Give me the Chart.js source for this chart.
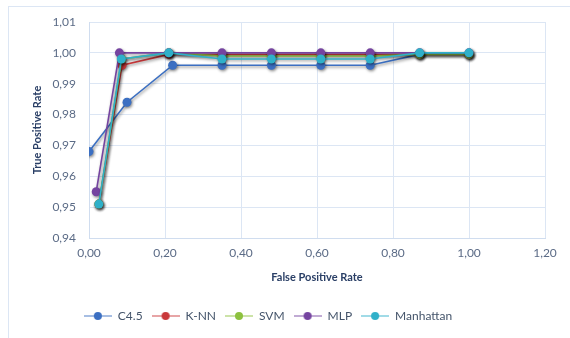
<!DOCTYPE html>
<html>
<head>
<meta charset="utf-8">
<script src="https://cdn.jsdelivr.net/npm/chart.js@4/dist/chart.umd.min.js"></script>
<style>
  html, body { margin: 0; padding: 0; background: #fff; overflow: hidden; }
  #frame { position: absolute; left: 8px; top: 6px; width: 700px; height: 500px; border: 1px solid #dce6f4; }
  #wrap { position: absolute; left: 0; top: 0; width: 570px; height: 338px; }
</style>
</head>
<body>
<div id="frame"></div>
<div id="wrap"><canvas id="roc"></canvas></div>
<script>
// Dados
const nomes = ['C4.5', 'K-NN', 'SVM', 'MLP', 'Manhattan'];
const cores = ['#3b6fc2', '#c9383a', '#8dc13f', '#7544a0', '#2fb0c9'];

const xC45 = [0.00, 0.10, 0.22, 0.35, 0.48, 0.61, 0.74, 0.87, 1.00];
const yC45 = [0.968, 0.984, 0.996, 0.996, 0.996, 0.996, 0.996, 0.9995, 0.9995];
const xKNN = [0.026, 0.087, 0.21, 0.35, 0.48, 0.61, 0.74, 0.87, 1.00];
const yKNN = [0.951, 0.996, 0.9995, 0.9995, 0.9995, 0.9995, 0.9995, 0.9995, 0.9995];
const xSVM = [0.026, 0.086, 0.21, 0.35, 0.48, 0.61, 0.74, 0.87, 1.00];
const ySVM = [0.951, 0.998, 1.000, 0.999, 0.999, 0.999, 0.999, 0.9995, 0.9995];
const xMLP = [0.019, 0.080, 0.21, 0.35, 0.48, 0.61, 0.74, 0.87, 1.00];
const yMLP = [0.955, 1.000, 1.000, 1.000, 1.000, 1.000, 1.000, 1.000, 1.000];
const xMan = [0.026, 0.085, 0.21, 0.35, 0.48, 0.61, 0.74, 0.87, 1.00];
const yMan = [0.951, 0.998, 1.000, 0.998, 0.998, 0.998, 0.998, 1.000, 1.000];

const xTicks = [0, 0.2, 0.4, 0.6, 0.8, 1.0, 1.2];
const yTicks = [0.94, 0.95, 0.96, 0.97, 0.98, 0.99, 1.00, 1.01];

const series = [[xC45, yC45], [xKNN, yKNN], [xSVM, ySVM], [xMLP, yMLP], [xMan, yMan]];
const ordem = [4, 3, 2, 1, 0]; // Manhattan fica por cima

function virgula(v) { return v.toFixed(2).replace('.', ','); }

// ícone da legenda: linha com ponto no meio
function iconeLegenda(cor) {
  const c = document.createElement('canvas');
  c.width = 28; c.height = 10;
  const g = c.getContext('2d');
  g.globalAlpha = 0.45;
  g.strokeStyle = cor; g.lineWidth = 2;
  g.beginPath(); g.moveTo(0, 5); g.lineTo(28, 5); g.stroke();
  g.globalAlpha = 1;
  g.fillStyle = cor;
  g.beginPath(); g.arc(14, 5, 4, 0, Math.PI * 2); g.fill();
  return c;
}

const datasets = series.map((s, i) => ({
  label: nomes[i],
  data: s[0].map((x, k) => ({ x: x, y: s[1][k] })),
  borderColor: cores[i],
  backgroundColor: cores[i],
  pointBackgroundColor: cores[i],
  pointBorderColor: cores[i],
  pointRadius: 4.5,
  pointBorderWidth: 0,
  borderWidth: 1.6,
  showLine: true,
  order: ordem[i],
  pointStyle: 'circle',
  legendIcon: iconeLegenda(cores[i])
}));

const sombra = {
  id: 'sombra',
  beforeDatasetsDraw(chart) {
    const ctx = chart.ctx;
    ctx.save();
    ctx.shadowColor = 'rgba(0,0,0,0.45)';
    ctx.shadowBlur = 3;
    ctx.shadowOffsetX = 1;
    ctx.shadowOffsetY = 1.5;
  },
  afterDatasetsDraw(chart) { chart.ctx.restore(); }
};

const deslocaLegenda = {
  id: 'deslocaLegenda',
  afterLayout(chart) {
    chart.legend.left -= 20;
    chart.legend.right -= 20;
  }
};

const ctx = document.getElementById('roc').getContext('2d');
const graf = new Chart(ctx, {
  type: 'scatter',
  data: { datasets: datasets },
  plugins: [sombra, deslocaLegenda],
  options: {
    responsive: true,
    maintainAspectRatio: false,
    animation: false,
    layout: { padding: { top: 22, right: 25, left: 31, bottom: 6 } },
    plugins: {
      tooltip: { enabled: false },
      legend: {
        position: 'bottom',
        labels: {
          usePointStyle: true,
          pointStyleWidth: 28,
          padding: 9,
          color: '#44546a',
          font: { family: 'Lato', size: 12 },
          generateLabels(chart) {
            return chart.data.datasets.map((d, i) => ({
              text: d.label,
              pointStyle: d.legendIcon,
              fillStyle: d.borderColor,
              strokeStyle: d.borderColor,
              lineWidth: 0,
              fontColor: '#44546a',
              hidden: false,
              datasetIndex: i
            }));
          }
        }
      }
    },
    scales: {
      x: {
        type: 'linear',
        min: 0, max: 1.2,
        afterBuildTicks: s => { s.ticks = xTicks.map(v => ({ value: v })); },
        afterFit: s => { s.height = 63; },
        grid: { color: '#dce6f4', lineWidth: 1, drawTicks: false },
        border: { color: '#d0ddef' },
        ticks: { color: '#5b6b86', padding: 8, font: { family: 'Lato', size: 12 }, callback: v => virgula(v) },
        title: { display: true, text: 'False Positive Rate', color: '#2a3f66', padding: { top: 4, bottom: 17 }, font: { family: 'Lato', size: 11, weight: 'bold' } }
      },
      y: {
        type: 'linear',
        min: 0.94, max: 1.01,
        afterBuildTicks: s => { s.ticks = yTicks.map(v => ({ value: v })); },
        afterFit: s => { s.width = 58; },
        grid: { color: '#dce6f4', lineWidth: 1, drawTicks: false },
        border: { color: '#d0ddef' },
        ticks: { color: '#5b6b86', padding: 13, font: { family: 'Lato', size: 12 }, callback: v => virgula(v) },
        title: { display: true, text: 'True Positive Rate', color: '#2a3f66', padding: { top: 0, bottom: 0 }, font: { family: 'Lato', size: 11, weight: 'bold' } }
      }
    }
  }
});
</script>
</body>
</html>
